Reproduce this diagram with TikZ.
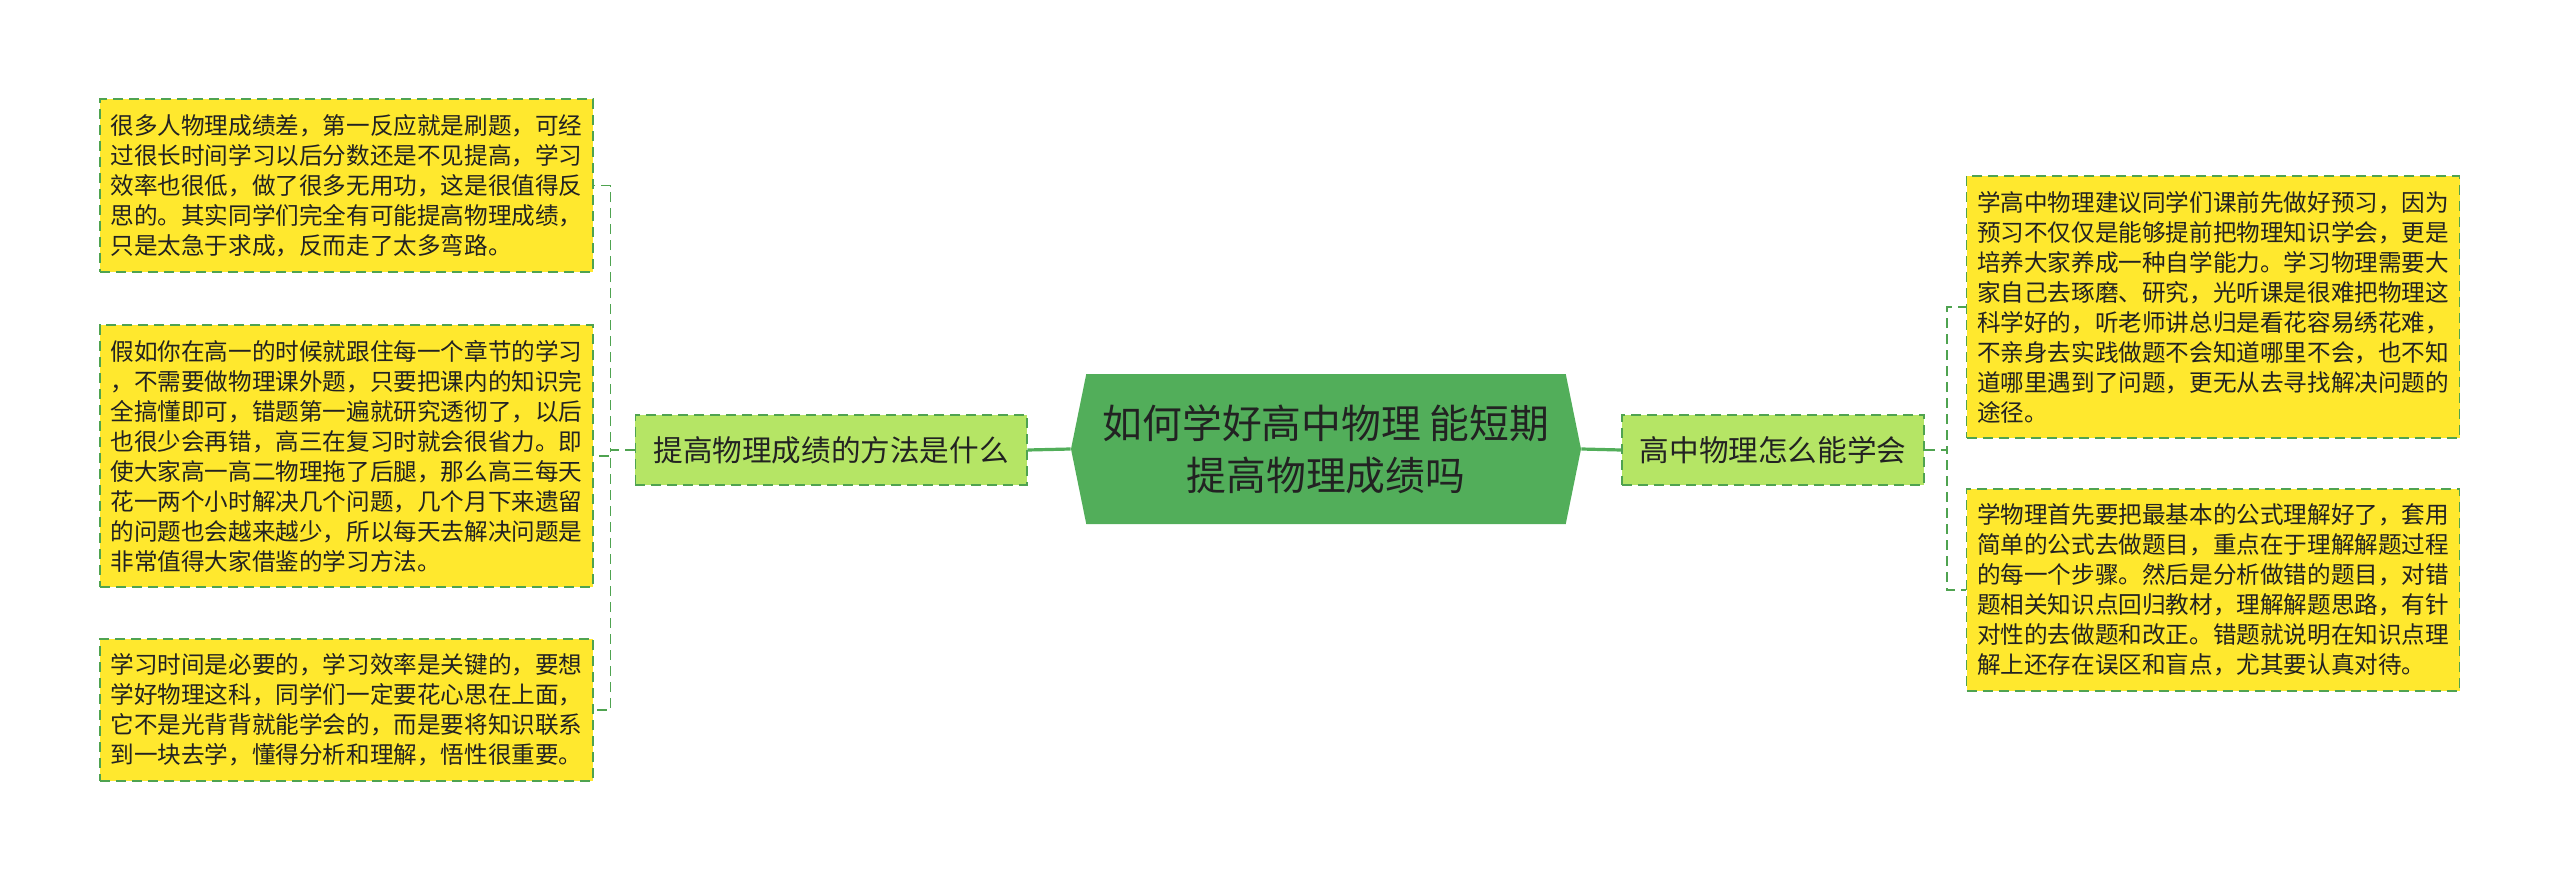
\documentclass[tikz,border=0pt]{standalone}
\usepackage{fontspec}
\setmainfont{Noto Sans CJK SC}
\usepackage{tikz}
\usetikzlibrary{shapes.symbols,positioning}
\definecolor{leafyellow}{HTML}{FFE82E}
\definecolor{branchgreen}{HTML}{B5E565}
\definecolor{rootgreen}{HTML}{52AE5A}
\definecolor{linegreen}{HTML}{4FA350}
\definecolor{textdark}{HTML}{222222}

\begin{document}
\begin{tikzpicture}[x=0.5pt, y=-0.5pt,
  leaf/.style={draw=linegreen, fill=leafyellow, dash pattern=on 5pt off 3pt, line width=0.9pt,
    text width=236pt, align=left, inner xsep=5.25pt, inner ysep=7.5pt, text=textdark,
    font=\fontsize{11.8}{15}\selectfont},
  branch/.style={draw=linegreen, fill=branchgreen, dash pattern=on 5pt off 3pt, line width=0.9pt,
    minimum height=35pt, inner xsep=9pt, text=textdark, font=\fontsize{14.8}{18}\selectfont},
  root/.style={signal, signal to=west and east, signal pointer angle=157, fill=rootgreen,
    minimum width=255pt, minimum height=75pt, align=center, text=textdark,
    font=\fontsize{19.9}{26}\selectfont},
  trunk/.style={draw=rootgreen, line width=1.6pt},
  twig/.style={draw=linegreen, line width=0.9pt, dash pattern=on 5pt off 3pt}]

  \useasboundingbox (0,0) rectangle (2560,883);

  % Define coordinates for nodes
  \node[root] (root) at (1326,449) {如何学好高中物理 能短期\\提高物理成绩吗};
  \node[branch] (lbranch) at (831,450) {提高物理成绩的方法是什么};
  \node[branch] (rbranch) at (1773,450) {高中物理怎么能学会};

  \node[leaf] (leaf1) at (346.5,185.5) {很多人物理成绩差，第一反应就是刷题，可经\\过很长时间学习以后分数还是不见提高，学习\\效率也很低，做了很多无用功，这是很值得反\\思的。其实同学们完全有可能提高物理成绩，\\只是太急于求成，反而走了太多弯路。};
  \node[leaf] (leaf2) at (346.5,456) {假如你在高一的时候就跟住每一个章节的学习\\，不需要做物理课外题，只要把课内的知识完\\全搞懂即可，错题第一遍就研究透彻了，以后\\也很少会再错，高三在复习时就会很省力。即\\使大家高一高二物理拖了后腿，那么高三每天\\花一两个小时解决几个问题，几个月下来遗留\\的问题也会越来越少，所以每天去解决问题是\\非常值得大家借鉴的学习方法。};
  \node[leaf] (leaf3) at (346.5,710) {学习时间是必要的，学习效率是关键的，要想\\学好物理这科，同学们一定要花心思在上面，\\它不是光背背就能学会的，而是要将知识联系\\到一块去学，懂得分析和理解，悟性很重要。};

  \node[leaf] (leaf4) at (2213,307) {学高中物理建议同学们课前先做好预习，因为\\预习不仅仅是能够提前把物理知识学会，更是\\培养大家养成一种自学能力。学习物理需要大\\家自己去琢磨、研究，光听课是很难把物理这\\科学好的，听老师讲总归是看花容易绣花难，\\不亲身去实践做题不会知道哪里不会，也不知\\道哪里遇到了问题，更无从去寻找解决问题的\\途径。};
  \node[leaf] (leaf5) at (2213,590) {学物理首先要把最基本的公式理解好了，套用\\简单的公式去做题目，重点在于理解解题过程\\的每一个步骤。然后是分析做错的题目，对错\\题相关知识点回归教材，理解解题思路，有针\\对性的去做题和改正。错题就说明在知识点理\\解上还存在误区和盲点，尤其要认真对待。};

  % Draw links between nodes
  \draw[trunk] (root.west) -- (lbranch.east);
  \draw[trunk] (root.east) -- (rbranch.west);
  \draw[twig] (lbranch.west) -- ++(-24,0) |- (leaf1.east);
  \draw[twig] (lbranch.west) -- ++(-24,0) |- (leaf2.east);
  \draw[twig] (lbranch.west) -- ++(-24,0) |- (leaf3.east);
  \draw[twig] (rbranch.east) -- ++(22,0) |- (leaf4.west);
  \draw[twig] (rbranch.east) -- ++(22,0) |- (leaf5.west);
\end{tikzpicture}
\end{document}
